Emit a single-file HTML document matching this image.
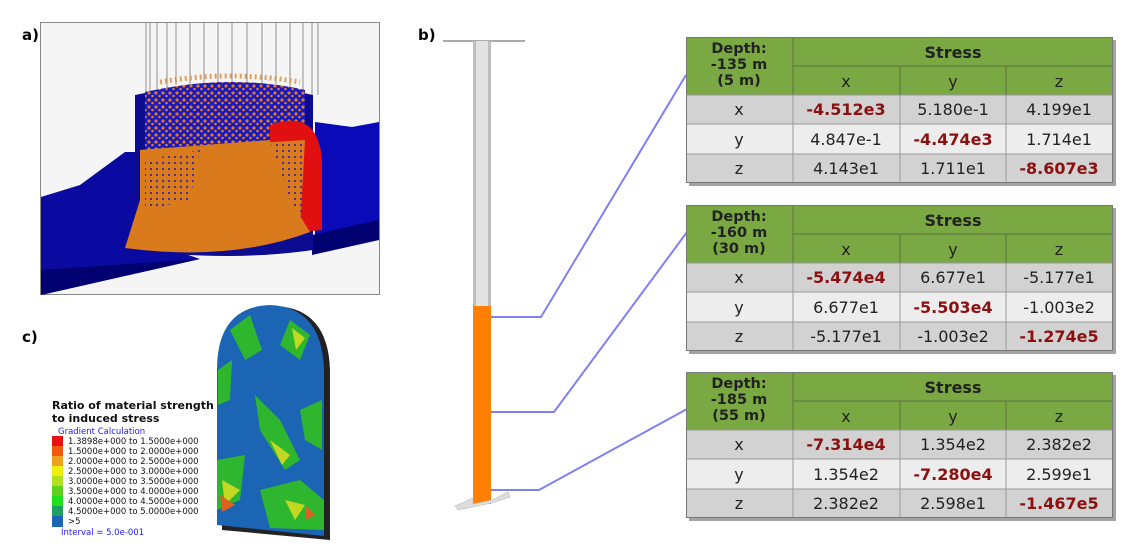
<!DOCTYPE html>
<html><head><meta charset="utf-8"><style>
html,body{margin:0;padding:0;background:#fff;width:1140px;height:555px;overflow:hidden}
svg{display:block}
text{font-family:"DejaVu Sans","Liberation Sans",sans-serif}
</style></head><body>
<svg width="1140" height="555" viewBox="0 0 1140 555" xmlns="http://www.w3.org/2000/svg">
<defs>
<pattern id="mix" width="7" height="7" patternUnits="userSpaceOnUse">
  <rect width="7" height="7" fill="#1818c0"/>
  <circle cx="2" cy="2" r="1.6" fill="#e07a20"/>
  <circle cx="5.5" cy="5" r="1.3" fill="#e07a20"/>
</pattern>
<pattern id="mix2" width="6" height="6" patternUnits="userSpaceOnUse">
  <rect width="6" height="6" fill="#d97a1c"/>
  <circle cx="1" cy="1" r="1" fill="#1818c0"/>
</pattern>
<g id="tbl">
  <rect x="3" y="3" width="427" height="146" fill="#666" opacity="0.6"/>
  <rect x="0" y="0" width="427" height="58" fill="#7aa843"/>
  <rect x="0" y="58" width="427" height="29" fill="#d2d2d2"/>
  <rect x="0" y="87" width="427" height="30" fill="#ededed"/>
  <rect x="0" y="117" width="427" height="29" fill="#d2d2d2"/>
  <g stroke="#5d6f44" stroke-width="1" fill="none">
    <line x1="107" y1="29" x2="427" y2="29"/>
    <line x1="107" y1="0" x2="107" y2="58"/>
    <line x1="214" y1="29" x2="214" y2="58"/>
    <line x1="320" y1="29" x2="320" y2="58"/>
  </g>
  <g stroke="#999" stroke-width="1" fill="none">
    <line x1="0" y1="58" x2="427" y2="58"/>
    <line x1="0" y1="87" x2="427" y2="87"/>
    <line x1="0" y1="117" x2="427" y2="117"/>
    <line x1="107" y1="58" x2="107" y2="146"/>
    <line x1="214" y1="58" x2="214" y2="146"/>
    <line x1="320" y1="58" x2="320" y2="146"/>
    <rect x="0.5" y="0.5" width="426" height="145" stroke="#777"/>
  </g>
  <g font-size="16" fill="#222" text-anchor="middle">
    <text x="267" y="21" font-weight="bold" font-size="16">Stress</text>
    <text x="160" y="50">x</text><text x="267" y="50">y</text><text x="373" y="50">z</text>
    <text x="53" y="78">x</text><text x="53" y="108">y</text><text x="53" y="137">z</text>
  </g>
</g>
</defs>

<!-- panel a -->
<text x="22" y="40" font-size="15" font-weight="bold">a)</text>
<rect x="40.5" y="22.5" width="339" height="272" fill="#f5f5f5" stroke="#888"/>
<polygon points="41,197 80,185 125,152 145,152 145,240 200,259 41,295" fill="#0a0aa0"/>
<polygon points="41,270 200,259 41,295" fill="#000070"/>
<polygon points="315,122 352,127 379,122 379,222 315,235" fill="#0a0ab8"/>
<polygon points="312,235 379,220 379,240 312,255" fill="#000070"/>
<g stroke="#777" stroke-width="0.8">
<line x1="146" y1="23" x2="146" y2="95"/><line x1="150" y1="23" x2="150" y2="95"/><line x1="157" y1="23" x2="157" y2="95"/><line x1="167" y1="23" x2="167" y2="90"/><line x1="176" y1="23" x2="176" y2="85"/><line x1="190" y1="23" x2="190" y2="85"/><line x1="204" y1="23" x2="204" y2="85"/><line x1="218" y1="23" x2="218" y2="85"/><line x1="232" y1="23" x2="232" y2="85"/><line x1="247" y1="23" x2="247" y2="85"/><line x1="262" y1="23" x2="262" y2="85"/><line x1="276" y1="23" x2="276" y2="85"/><line x1="290" y1="23" x2="290" y2="90"/><line x1="303" y1="23" x2="303" y2="95"/><line x1="312" y1="23" x2="312" y2="95"/><line x1="318" y1="23" x2="318" y2="95"/>
</g>
<path d="M135,95 Q230,75 313,95 L313,250 Q230,262 135,250 Z" fill="#0c0c90"/>
<path d="M145,92 Q230,73 305,90 L305,150 L145,160 Z" fill="url(#mix)"/>
<path d="M270,125 Q318,108 322,160 L322,230 L270,235 Z" fill="#e01010"/>
<path d="M140,150 L305,140 L300,230 L270,230 L265,150 Z" fill="url(#mix2)"/>
<path d="M140,150 L270,140 L290,200 L310,232 Q230,262 125,248 L140,200 Z" fill="#d97a1c"/>
<path d="M145,160 L200,150 L190,200 L145,210 Z" fill="url(#mix2)"/>
<path d="M160,82 Q230,70 300,82" stroke="#d98a3a" stroke-width="5" fill="none" stroke-dasharray="2 3" opacity="0.8"/>

<!-- panel b -->
<text x="418" y="40" font-size="15" font-weight="bold">b)</text>
<line x1="443" y1="41" x2="525" y2="41" stroke="#555"/>
<rect x="473" y="41" width="18" height="266" fill="#e2e2e2"/>
<rect x="473" y="41" width="3" height="266" fill="#bdbdbd"/>
<rect x="488" y="41" width="3" height="266" fill="#bdbdbd"/>
<rect x="473" y="306" width="18" height="198" fill="#ff7f00"/>
<polygon points="455,506 473,498 473,504 492,500 508,492 510,497 492,503 458,510" fill="#ddd" stroke="#bbb" stroke-width="0.6"/>
<g stroke="#8080f0" stroke-width="2" fill="none">
<polyline points="491,317 541,317 686,75"/>
<polyline points="491,412 554,412 690,228"/>
<polyline points="491,490 539,490 687,409"/>
</g>

<!-- tables -->
<g transform="translate(686,37)"><use href="#tbl"/>
<g font-size="14.5" font-weight="bold" fill="#222" text-anchor="middle"><text x="53" y="16">Depth:</text><text x="53" y="32">-135 m</text><text x="53" y="48">(5 m)</text></g>
<g font-size="16" text-anchor="middle" fill="#222"><text x="160" y="78" font-weight="bold" fill="#8b1010">-4.512e3</text><text x="267" y="78">5.180e-1</text><text x="373" y="78">4.199e1</text>
<text x="160" y="108">4.847e-1</text><text x="267" y="108" font-weight="bold" fill="#8b1010">-4.474e3</text><text x="373" y="108">1.714e1</text>
<text x="160" y="137">4.143e1</text><text x="267" y="137">1.711e1</text><text x="373" y="137" font-weight="bold" fill="#8b1010">-8.607e3</text></g></g>

<g transform="translate(686,205)"><use href="#tbl"/>
<g font-size="14.5" font-weight="bold" fill="#222" text-anchor="middle"><text x="53" y="16">Depth:</text><text x="53" y="32">-160 m</text><text x="53" y="48">(30 m)</text></g>
<g font-size="16" text-anchor="middle" fill="#222"><text x="160" y="78" font-weight="bold" fill="#8b1010">-5.474e4</text><text x="267" y="78">6.677e1</text><text x="373" y="78">-5.177e1</text>
<text x="160" y="108">6.677e1</text><text x="267" y="108" font-weight="bold" fill="#8b1010">-5.503e4</text><text x="373" y="108">-1.003e2</text>
<text x="160" y="137">-5.177e1</text><text x="267" y="137">-1.003e2</text><text x="373" y="137" font-weight="bold" fill="#8b1010">-1.274e5</text></g></g>

<g transform="translate(686,372)"><use href="#tbl"/>
<g font-size="14.5" font-weight="bold" fill="#222" text-anchor="middle"><text x="53" y="16">Depth:</text><text x="53" y="32">-185 m</text><text x="53" y="48">(55 m)</text></g>
<g font-size="16" text-anchor="middle" fill="#222"><text x="160" y="78" font-weight="bold" fill="#8b1010">-7.314e4</text><text x="267" y="78">1.354e2</text><text x="373" y="78">2.382e2</text>
<text x="160" y="108">1.354e2</text><text x="267" y="108" font-weight="bold" fill="#8b1010">-7.280e4</text><text x="373" y="108">2.599e1</text>
<text x="160" y="137">2.382e2</text><text x="267" y="137">2.598e1</text><text x="373" y="137" font-weight="bold" fill="#8b1010">-1.467e5</text></g></g>

<!-- panel c -->
<text x="22" y="342" font-size="15" font-weight="bold">c)</text>
<path d="M222,530 L222,370 Q222,308 275,306 Q328,308 330,370 L330,540 Z" fill="#222"/>
<path d="M217,525 L217,370 Q217,307 270,305 Q322,307 324,370 L324,536 Z" fill="#1c64b4"/>
<g fill="#30c020" opacity="0.9">
<polygon points="230,330 250,315 262,350 245,360"/>
<polygon points="290,320 310,335 300,360 280,345"/>
<polygon points="255,395 280,420 300,460 285,470 260,430"/>
<polygon points="300,410 322,400 322,450 305,440"/>
<polygon points="217,460 245,455 240,500 217,510"/>
<polygon points="260,490 300,480 324,500 324,530 270,528"/>
<polygon points="218,370 232,360 230,400 218,405"/>
</g>
<g fill="#e8e020" opacity="0.8">
<polygon points="292,328 305,338 296,350"/><polygon points="270,440 290,455 282,465"/><polygon points="222,480 240,490 225,505"/><polygon points="285,500 305,505 295,520"/>
</g>
<g fill="#e06020"><polygon points="220,495 235,505 222,512"/><polygon points="305,505 315,515 305,520"/></g>

<text x="52" y="409" font-size="11" font-weight="bold" fill="#111">Ratio of material strength</text>
<text x="52" y="422" font-size="11" font-weight="bold" fill="#111"> to induced stress</text>
<text x="58" y="434" font-size="8.5" fill="#2020ff">Gradient Calculation</text>
<g font-size="8.5" fill="#111">
<rect x="52" y="436" width="11" height="10" fill="#e81010"/><text x="68" y="444">1.3898e+000 to  1.5000e+000</text>
<rect x="52" y="446" width="11" height="10" fill="#f05a10"/><text x="68" y="454">1.5000e+000 to  2.0000e+000</text>
<rect x="52" y="456" width="11" height="10" fill="#f0a020"/><text x="68" y="464">2.0000e+000 to  2.5000e+000</text>
<rect x="52" y="466" width="11" height="10" fill="#f0f010"/><text x="68" y="474">2.5000e+000 to  3.0000e+000</text>
<rect x="52" y="476" width="11" height="10" fill="#b0e020"/><text x="68" y="484">3.0000e+000 to  3.5000e+000</text>
<rect x="52" y="486" width="11" height="10" fill="#60d020"/><text x="68" y="494">3.5000e+000 to  4.0000e+000</text>
<rect x="52" y="496" width="11" height="10" fill="#20e020"/><text x="68" y="504">4.0000e+000 to  4.5000e+000</text>
<rect x="52" y="506" width="11" height="10" fill="#20a060"/><text x="68" y="514">4.5000e+000 to  5.0000e+000</text>
<rect x="52" y="516" width="11" height="11" fill="#1c64b4"/><text x="68" y="524">&gt;5</text>
</g>
<text x="61" y="535" font-size="8.5" fill="#2020ff">Interval =  5.0e-001</text>
</svg>
</body></html>
